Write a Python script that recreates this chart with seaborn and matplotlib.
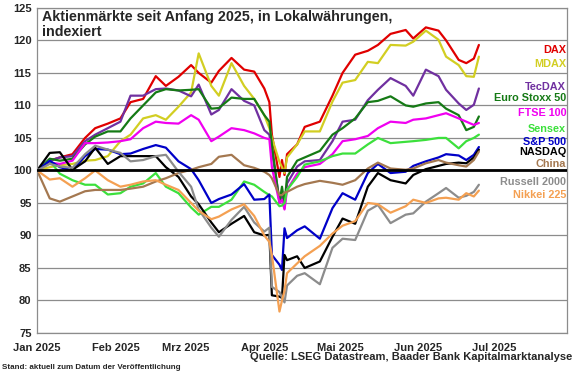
import seaborn as sns
import pandas as pd
import numpy as np
import matplotlib.pyplot as plt
import matplotlib.transforms as mtransforms

dates = ['2025-01-01', '2025-01-06', '2025-01-10', '2025-01-15', '2025-01-20', '2025-01-24', '2025-01-29',
         '2025-02-03', '2025-02-07', '2025-02-12', '2025-02-17', '2025-02-21', '2025-02-26',
         '2025-03-03', '2025-03-06', '2025-03-11', '2025-03-14', '2025-03-19', '2025-03-24', '2025-03-28',
         '2025-04-01', '2025-04-03', '2025-04-04', '2025-04-07', '2025-04-08', '2025-04-09', '2025-04-10',
         '2025-04-14', '2025-04-17', '2025-04-23', '2025-04-28',
         '2025-05-02', '2025-05-07', '2025-05-12', '2025-05-16', '2025-05-21', '2025-05-27', '2025-05-30',
         '2025-06-04', '2025-06-09', '2025-06-12', '2025-06-17', '2025-06-20', '2025-06-23', '2025-06-25']

dax = [100, 101.5, 102, 102.5, 105, 106.5, 107.2,
       108, 110.5, 111, 114.5, 113, 114.4,
       116.2, 115, 113.5, 115.3, 117.3, 115.5, 115.2,
       112.6, 110.5, 105.5, 99, 101.6, 99.3, 102.5, 104, 106.7, 107.5, 111.5,
       115, 117.8, 118.4, 119.3, 121, 121.6, 120.3,
       122, 121.5, 120, 117, 116.5, 117.2, 119.3]
mdax = [100, 100.5, 100.8, 101, 101.5, 101.6, 102.2,
        104.5, 105.5, 108, 108.5, 107.8, 109.8,
        112, 118, 113, 111.5, 116.5, 113, 111,
        108.5, 106.5, 105, 101.3, 100.5, 99.6, 102, 104, 106, 106, 110.6,
        113.5, 113.9, 116.7, 116.5, 119.3, 119.2, 119.8,
        121.5, 120.1, 117.5, 116.2, 114.5, 114.4, 117.5]
tecdax = [100, 101.5, 102, 102.2, 104.5, 105.5, 106.5,
          107.5, 111.5, 111.5, 112.5, 112.6, 112.3,
          111.4, 113.2, 108.6, 109.3, 112.5, 110.7, 110,
          106.2, 105.5, 103, 95.5, 96, 94.2, 98, 100.6, 101.4, 101.6, 104.5,
          107.5, 107.8, 110.8, 112.4, 114.2, 113, 111.5,
          115.5, 114.5, 112.4, 110.3, 109.3, 110.1, 112.6]
stoxx = [100, 101.8, 101.5, 101.8, 104, 105.2, 106,
         106, 108, 110, 112, 112.5, 112.3,
         112.4, 112.5, 109.5, 109.6, 111.2, 111, 111,
         108.5, 107.5, 104, 95, 97.5, 94.8, 99, 101.5, 102, 103, 105.5,
         106.5, 108, 110.5, 110.7, 111.4, 110, 109.8,
         110.3, 110.5, 109.5, 108.5, 106.2, 106.7, 108.3]
ftse = [100, 101.2, 101, 101.5, 104.2, 104.2, 104.3,
        104.5, 104.8, 106.5, 107.5, 107.3, 107.2,
        108.5, 107.8, 104.5, 105.2, 106.5, 106.2, 105.7,
        105, 104.8, 100.5, 95, 95.5, 94, 97, 99.5, 100.5, 101, 102.5,
        104.5, 104.8, 105.3, 106.5, 107.5, 107.3, 107.8,
        108, 108.5, 108.8, 108, 107.5, 107, 107.3]
sensex = [100, 101.5, 99.5, 98.5, 97.8, 97.8, 96.3,
          96.5, 97.5, 98, 99.6, 97.5, 96.5,
          94.3, 93.2, 94.4, 94.4, 95.5, 98.3, 97.8,
          96.7, 96.2, 96, 94.5, 94.6, 95, 97, 99, 100.9, 101.4, 102.2,
          102.6, 102.6, 104, 105, 104.2, 104.4, 104.5,
          104.7, 105, 105, 103.4, 104.5, 105, 105.5]
sp500 = [100, 101.5, 100.5, 100, 102.2, 103.3, 103.2,
         102.5, 102.6, 103.3, 103.9, 103.5, 101.4,
         100.2, 98.5, 95, 95.6, 96.3, 97.9, 95.5,
         95.6, 96.3, 87, 85.5, 84.7, 91.1, 89.6, 90.8, 91.4, 89.5, 94.2,
         96.5, 95.5, 99.6, 101, 99.6, 99.8, 100.7,
         101.4, 102, 102.5, 102.3, 101.6, 102.4, 103.6]
nasdaq = [100, 102.7, 102.8, 100.1, 101.4, 103.5, 101,
          102.2, 102.2, 102.2, 102.2, 100.5, 99,
          96, 94.8, 92, 90.5, 91.8, 93, 90.5,
          90, 90.1, 80.8, 80.6, 80.4, 87, 86.2, 86.8, 85, 86, 89.8,
          92.6, 91.8, 97.5, 99.6, 98.5, 98, 99.3,
          100.2, 100.7, 101, 101.2, 101.1, 102, 103.2]
china = [100, 95.7, 95.2, 96, 96.8, 97, 97,
         97, 97.2, 97.5, 98.3, 98.8, 99.6,
         100.1, 100.5, 101, 102.1, 102.4, 100.8, 100.4,
         99.8, 99.3, 98.8, 96.2, 96.2, 96.6, 96.7, 97.5, 97.9, 98.4, 98.1,
         97.8, 98.5, 100.3, 101.2, 100.3, 100.1, 100.3,
         101.1, 101.6, 101.2, 100.8, 100.6, 101.6, 102.9]
russell = [100, 101, 100.6, 100.4, 102.5, 103.8, 103.2,
           102.7, 101.4, 101.6, 102.2, 102.4, 99.8,
           97.5, 94, 91.2, 89.8, 92.4, 94.4, 92,
           90.6, 91.2, 82.1, 81.3, 80.5, 79.7, 82.3, 83.8, 84.2, 82.5, 88.1,
           89.5, 89.3, 93.8, 94.7, 91.9, 93.2, 93.4,
           95.2, 96.5, 97.3, 95.8, 96.1, 96.7, 97.8]
nikkei = [100, 98.6, 98.8, 97.5, 98.8, 100, 98.5,
          97.5, 97.8, 98.3, 98.5, 97.8, 97,
          95, 93.8, 92.5, 92.9, 94, 94.8, 93,
          90, 89, 87, 78.3, 80, 81.5, 84.2, 85.7, 86.8, 88.4, 90.3,
          91.5, 92.2, 95, 94.8, 93.5, 94.5, 95.5,
          95, 95.7, 95.8, 95.5, 96.5, 96, 96.9]

series = ['DAX', 'MDAX', 'TecDAX', 'Euro Stoxx 50', 'FTSE 100', 'Sensex',
          'S&P 500', 'NASDAQ', 'China', 'Russell 2000', 'Nikkei 225']
values = [dax, mdax, tecdax, stoxx, ftse, sensex, sp500, nasdaq, china, russell, nikkei]
colors = ['#E00000', '#D2CE22', '#7030A0', '#157A15', '#F000F0', '#3CE03C',
          '#0000C8', '#000000', '#A47850', '#8C8C8C', '#F4A052']
# y position of the right-hand labels
label_y = [118.5, 116.4, 112.8, 111.2, 108.8, 106.4, 104.4, 102.8, 101.0, 98.2, 96.2]

month_ticks = ['2025-01-01', '2025-02-01', '2025-03-01', '2025-04-01', '2025-05-01', '2025-06-01', '2025-07-01']
month_labels = ['Jan 2025', 'Feb 2025', 'Mrz 2025', 'Apr 2025', 'Mai 2025', 'Jun 2025', 'Jul 2025']

df = pd.DataFrame({'date': pd.to_datetime(dates * len(series)),
                   'index': sum(values, []),
                   'series': np.repeat(series, len(dates))})

sns.set_theme(style='white')
plt.rcParams['font.family'] = ['Liberation Sans', 'DejaVu Sans']
plt.rcParams['font.weight'] = 'bold'

fig, ax = plt.subplots(figsize=(5.8, 3.75), dpi=100)
fig.subplots_adjust(left=0.064, right=0.978, top=0.979, bottom=0.112)

sns.lineplot(data=df, x='date', y='index', hue='series', hue_order=series,
             palette=dict(zip(series, colors)), linewidth=1.6, legend=False, ax=ax)

ax.axhline(100, color='black', lw=2, zorder=5)
ax.set_ylim(75, 125)
ax.set_yticks(np.arange(75, 126, 5))
ax.set_xlim(pd.Timestamp('2025-01-01'), pd.Timestamp('2025-07-30'))
ax.set_xticks(pd.to_datetime(month_ticks))
ax.set_xticklabels(month_labels)
ax.grid(axis='y', color='#8C8C8C', lw=0.9)
ax.set_axisbelow(True)
ax.tick_params(axis='x', direction='inout', length=5, width=0.9, color='#8C8C8C',
               pad=5, labelsize=8)
ax.tick_params(axis='y', length=0, pad=4, labelsize=8)
for lab in ax.get_xticklabels() + ax.get_yticklabels():
    lab.set_fontweight('bold')
for s in ax.spines.values():
    s.set_color('#8C8C8C')
    s.set_linewidth(0.9)
ax.set_xlabel('')
ax.set_ylabel('')

ax.text(0.009, 0.992, 'Aktienmärkte seit Anfang 2025, in Lokalwährungen,\nindexiert',
        transform=ax.transAxes, ha='left', va='top', fontsize=10.3, fontweight='bold',
        linespacing=1.05)

trans = mtransforms.blended_transform_factory(ax.transAxes, ax.transData)
for name, c, yy in zip(series, colors, label_y):
    ax.text(0.998, yy, name, transform=trans, ha='right', va='center', color=c,
            fontsize=7.8, fontweight='bold')

fig.text(0.986, 0.048, 'Quelle: LSEG Datastream, Baader Bank Kapitalmarktanalyse',
         ha='right', va='center', fontsize=8, fontweight='bold')
fig.text(0.004, 0.019, 'Stand: aktuell zum Datum der Veröffentlichung',
         ha='left', va='center', fontsize=5.8, fontweight='bold')

fig.savefig('out.png', dpi=100)
